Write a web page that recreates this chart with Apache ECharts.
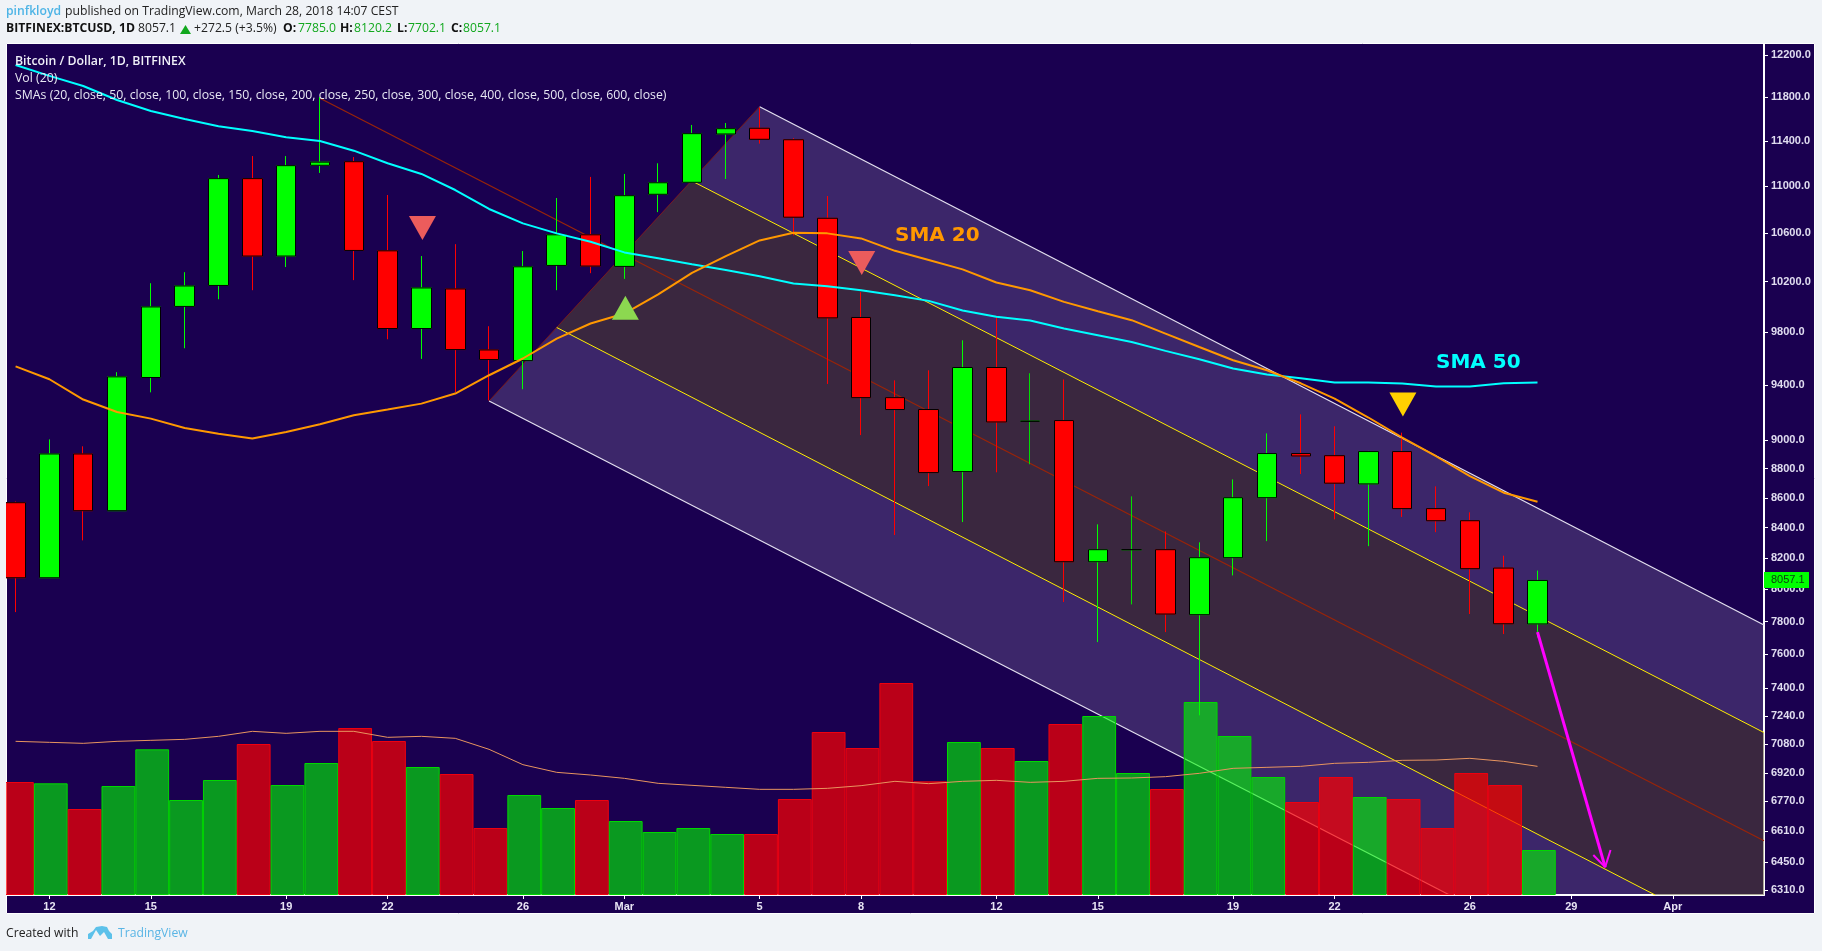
<!DOCTYPE html>
<html>
<head>
<meta charset="utf-8">
<title>BTCUSD</title>
<style>html,body{margin:0;padding:0;background:#f0f3f7;}#c{width:1822px;height:951px;}</style>
<script src="https://cdn.jsdelivr.net/npm/echarts@6/dist/echarts.min.js"></script>
</head>
<body>
<div id="c"></div>
<script>
// Daily sessions; the array index is the position on the x axis.
const dates = ["Feb 11","Feb 12","Feb 13","Feb 14","Feb 15","Feb 16","Feb 17","Feb 18","Feb 19","Feb 20","Feb 21","Feb 22","Feb 23","Feb 24","Feb 25","Feb 26","Feb 27","Feb 28","Mar 1","Mar 2","Mar 3","Mar 4","Mar 5","Mar 6","Mar 7","Mar 8","Mar 9","Mar 10","Mar 11","Mar 12","Mar 13","Mar 14","Mar 15","Mar 16","Mar 17","Mar 18","Mar 19","Mar 20","Mar 21","Mar 22","Mar 23","Mar 24","Mar 25","Mar 26","Mar 27","Mar 28"];
const opens  = [8567,8074,8903,8513,9457,10003,10170,11065,10409,11182,11214,10452,9830,10142,9665,9584,10332,10585,10324,10929,11033,11462,11514,11410,10724,9916,9308,9221,8780,9532,9136,9141,8177,8255,8255,7842,8203,8601,8906,8891,8695,8920,8527,8446,8136,7785];
const closes = [8074,8903,8513,9462,9999,10166,11065,10409,11179,11210,10455,9830,10150,9668,9592,10321,10585,10327,10917,11029,11465,11510,11414,10733,9913,9308,9221,8773,9532,9131,9136,8177,8255,8255,7846,8203,8601,8906,8889,8700,8920,8527,8446,8132,7786,8057];
const lows   = [7858,8074,8316,8513,9347,9678,10060,10132,10319,11115,10213,9747,9597,9349,9288,9370,10132,10269,10223,10776,11033,11062,11375,10580,9409,9037,8351,8680,8437,8775,8831,7921,7674,7906,7735,7243,8089,8311,8763,8455,8278,8471,8370,7846,7723,7702];
const highs  = [8575,9006,8957,9497,10188,10277,11097,11264,11264,11802,11255,10923,10409,10507,9848,10450,10897,11080,11106,11200,11544,11562,11702,11425,10914,10116,9436,9511,9739,9921,9489,9442,8422,8610,8375,8303,8726,9049,9186,9100,8925,9054,8678,8502,8216,8120];
const sma20  = [9541,9444,9294,9203,9155,9088,9047,9012,9059,9114,9179,9221,9264,9338,9474,9600,9752,9869,9947,10098,10272,10409,10538,10602,10597,10555,10452,10376,10300,10194,10132,10039,9965,9895,9791,9688,9587,9511,9414,9301,9163,9019,8887,8749,8635,8574];
const sma50  = [12104,12000,11905,11774,11672,11599,11532,11489,11432,11399,11312,11200,11106,10966,10803,10681,10597,10527,10439,10390,10341,10294,10245,10186,10164,10132,10092,10047,9971,9921,9893,9830,9778,9726,9658,9594,9524,9479,9451,9419,9419,9412,9390,9390,9414,9419];
const volumes = [33900,33500,25800,32700,43700,28500,34500,45300,33000,39600,50100,46200,38400,36300,20100,30000,26100,28500,22200,18900,20100,18300,18300,28800,48900,44100,63600,34100,45900,44100,40200,51300,53700,36600,31800,57900,47700,35400,27900,35400,29400,28800,20100,36600,33000,13500];
const volUp   = [0,1,0,1,1,1,1,0,1,1,0,0,1,0,0,1,1,0,1,1,1,1,0,0,0,0,0,0,1,0,1,0,1,1,0,1,1,1,0,0,1,0,0,0,0,1];
const volMA  = [46100,45800,45500,46100,46400,46700,47600,49100,48500,49100,49100,47300,47600,47000,43700,39100,36800,36000,35000,33500,32900,32300,31700,31700,32000,32800,34100,33400,34100,34400,33800,34100,35000,35100,35500,36500,38000,38300,38600,39500,39800,40400,40500,41000,40100,38600];

const priceTicks = [12200,11800,11400,11000,10600,10200,9800,9400,9000,8800,8600,8400,8200,8000,7800,7600,7400,7240,7080,6920,6770,6610,6450,6310];
const dayTicks = [1,4,8,11,15,18,22,25,29,32,36,39,43,46,49];
const dayTickLabels = ["12","15","19","22","26","Mar","5","8","12","15","19","22","26","29","Apr"];

// Drawn objects, in [day index, price]
const priceMin = 6285, priceMax = 12306, dayMin = -0.254, dayMax = 51.697;
const outerChannel = [[14,9283],[22,11712],[dayMax,7778],[dayMax,priceMin],[42.4,priceMin]];
const innerChannel = [[16,9838],[20,11044],[dayMax,7145],[dayMax,priceMin],[48.48,priceMin]];
const upperWhite = [[22,11712],[dayMax,7778]];
const lowerWhite = [[14,9283],[42.4,priceMin]];
const upperYellow = [[20,11044],[dayMax,7145]];
const lowerYellow = [[16,9838],[48.48,priceMin]];
const medianLine = [[9,11790],[dayMax,6560]];
const baseLine = [[14,9283],[22,11712]];
const arrowShaft = [[45,7735],[47,6425]];
const arrowHeadA = [[46.65,6487],[47,6425],[47.16,6512]];
const redMarks = [[12.03,10642],[25.02,10351]];
const greenMarks = [[18.03,9993]];
const yellowMarks = [[41.02,9257]];
const volXShift = 0.04;

const candleWicks = dates.map((d,i)=>[i,opens[i],closes[i],lows[i],highs[i]]);
const candleBodies = dates.map((d,i)=>[i,opens[i],closes[i],Math.min(opens[i],closes[i]),Math.max(opens[i],closes[i])]);
const volBars = volumes.map((v,i)=>({value:[i+volXShift,v],itemStyle:volUp[i]
  ?{color:'rgba(0,255,0,0.6)',borderColor:'#00d800',borderWidth:1}
  :{color:'rgba(255,0,0,0.7)',borderColor:'#ee0010',borderWidth:1}}));

const polygon = (pts,fill,z)=>({
  type:'custom',xAxisIndex:0,yAxisIndex:0,z,silent:true,clip:true,
  data:[0],
  renderItem:(p,api)=>({type:'polygon',shape:{points:pts.map(q=>api.coord(q))},style:{fill}})
});
const seg = (pts,color,width,z)=>({
  type:'line',xAxisIndex:0,yAxisIndex:0,data:pts,symbol:'none',silent:true,z,
  lineStyle:{color,width},clip:true,animation:false
});
const marks = (pts,color,rotate)=>({
  type:'scatter',xAxisIndex:0,yAxisIndex:0,data:pts,symbol:'triangle',symbolSize:[27,24],symbolRotate:rotate,silent:true,z:7,
  itemStyle:{color,opacity:1}
});

const hdr = "12.2px 'Open Sans'", hdrB = "bold 12.2px 'Open Sans'", lgd = "12.3px 'Open Sans'";
const txt = (x,y,text,fill,font,extra)=>Object.assign({type:'text',x,y,z:100,silent:true,style:{text,fill,font,textVerticalAlign:'middle',textBaseline:'middle'}},extra||{});

const chart = echarts.init(document.getElementById('c'),null,{renderer:'canvas'});
chart.setOption({
  animation:false,
  backgroundColor:'#f0f3f7',
  grid:{left:7,top:44,width:1757,height:851,show:false,containLabel:false},
  xAxis:{type:'value',min:dayMin,max:dayMax,splitLine:{show:false},
    axisLine:{show:true,onZero:false,lineStyle:{color:'#ffffff',width:2}},
    axisTick:{show:true,length:4,lineStyle:{color:'#ffffff'},customValues:dayTicks},
    axisLabel:{customValues:dayTicks,color:'#e8e4f4',fontFamily:'Liberation Sans',fontSize:11,fontWeight:'bold',margin:6,
      formatter:v=>dayTickLabels[dayTicks.indexOf(v)]||''}},
  yAxis:[
    {type:'log',logBase:10,min:priceMin,max:priceMax,position:'right',splitLine:{show:false},
      axisLine:{show:true,onZero:false,lineStyle:{color:'#ffffff',width:2}},
      axisTick:{show:true,length:4,lineStyle:{color:'#ffffff'},customValues:priceTicks},
      axisLabel:{customValues:priceTicks,color:'#e0dcf0',fontFamily:'Liberation Sans',fontSize:11,fontWeight:'bold',margin:7,hideOverlap:false,
        formatter:v=>Number(v).toFixed(1)}},
    {type:'value',min:0,max:255300,show:false,splitLine:{show:false}}
  ],
  graphic:[
    {type:'rect',z:-10,silent:true,shape:{x:6.5,y:43.5,width:1808,height:870},style:{fill:'#1a0050',stroke:'#ffffff',lineWidth:1}},
    {type:'rect',z:50,silent:true,shape:{x:0,y:44,width:6,height:851},style:{fill:'#f0f3f7'}},
    txt(6,12,'pinfkloyd','#4db4e6',"600 12.2px 'Open Sans'"),
    txt(65,12,'published on TradingView.com, March 28, 2018 14:07 CEST','#222222',hdr),
    txt(6,29,'BITFINEX:BTCUSD, 1D','#111111',hdrB),
    txt(138,29,'8057.1','#222222',hdr),
    {type:'polygon',z:100,silent:true,shape:{points:[[185.5,25],[180,34],[191,34]]},style:{fill:'#12a81e'}},
    txt(194,29,'+272.5 (+3.5%)','#222222',hdr),
    txt(283,29,'O:','#111111',hdrB), txt(298,29,'7785.0','#12a81e',hdr),
    txt(340,29,'H:','#111111',hdrB), txt(354,29,'8120.2','#12a81e',hdr),
    txt(397,29,'L:','#111111',hdrB), txt(408,29,'7702.1','#12a81e',hdr),
    txt(451,29,'C:','#111111',hdrB), txt(463,29,'8057.1','#12a81e',hdr),
    txt(15,61,'Bitcoin / Dollar, 1D, BITFINEX','#f0f0f8',"600 12.3px 'Open Sans'"),
    txt(15,78,'Vol (20)','#e8e8f4',lgd),
    txt(15,95,'SMAs (20, close, 50, close, 100, close, 150, close, 200, close, 250, close, 300, close, 400, close, 500, close, 600, close)','#e8e8f4',lgd),
    txt(895,236,'SMA 20','#ff9800',"bold 20px 'DejaVu Sans'"),
    txt(1436,363,'SMA 50','#00ffff',"bold 20px 'DejaVu Sans'"),
    {type:'rect',z:100,silent:true,shape:{x:1764,y:572,width:45,height:16},style:{fill:'#00ff00'}},
    txt(1771,580,'8057.1','#0c3a10',"11px 'Liberation Sans'"),
    txt(6,934,'Created with','#222222',hdr),
    {type:'polygon',z:100,silent:true,shape:{points:[[88,939],[88,934],[93,931],[96,927],[102,926],[107,927],[109,931],[112,934],[112,939],[108,939],[104,932],[100,936],[96,930],[91,939]]},style:{fill:'#5cc1ea'}},
    txt(118,934,'TradingView','#5ab5e5',hdr)
  ],
  series:[
    polygon(outerChannel,'rgba(255,255,255,0.15)',2),
    polygon(innerChannel,'rgba(55,42,0,0.4)',2),
    seg(medianLine,'#9a2408',1.2,3),
    seg(baseLine,'#7a1a1a',1,3),
    seg(upperWhite,'#e4e0f0',1.2,3),
    seg(lowerWhite,'#e4e0f0',1.2,3),
    seg(upperYellow,'#ffee00',1,3),
    seg(lowerYellow,'#ffee00',1,3),
    {type:'bar',name:'Vol',xAxisIndex:0,yAxisIndex:1,data:volBars,barWidth:33.8,z:4,silent:true},
    {type:'line',name:'Vol MA',xAxisIndex:0,yAxisIndex:1,data:volMA.map((v,i)=>[i,v]),symbol:'none',silent:true,z:4,lineStyle:{color:'#e8955f',width:1}},
    {type:'candlestick',name:'wicks',xAxisIndex:0,yAxisIndex:0,data:candleWicks,encode:{x:0,y:[1,2,3,4]},barWidth:20,z:5,silent:true,clip:true,
      itemStyle:{color:'#00ff00',color0:'#ff0000',borderColor:'#00ff00',borderColor0:'#ff0000',borderColorDoji:'#00e000',borderWidth:1}},
    {type:'candlestick',name:'BTCUSD',xAxisIndex:0,yAxisIndex:0,data:candleBodies,encode:{x:0,y:[1,2,3,4]},barWidth:20,z:5,silent:true,clip:true,
      itemStyle:{color:'#00ff00',color0:'#ff0000',borderColor:'#000000',borderColor0:'#000000',borderColorDoji:'#000000',borderWidth:1}},
    {type:'line',name:'SMA 50',xAxisIndex:0,yAxisIndex:0,data:sma50.map((v,i)=>[i,v]),symbol:'none',silent:true,z:6,lineStyle:{color:'#00ffff',width:2}},
    {type:'line',name:'SMA 20',xAxisIndex:0,yAxisIndex:0,data:sma20.map((v,i)=>[i,v]),symbol:'none',silent:true,z:6,lineStyle:{color:'#ff9800',width:2}},
    marks(redMarks,'#ec5c5c',180),
    marks(greenMarks,'#8cd850',0),
    marks(yellowMarks,'#ffd000',180),
    seg(arrowShaft,'#ff00ff',3,8),
    seg(arrowHeadA,'#ff00ff',2,8)
  ]
});
</script>
</body>
</html>
